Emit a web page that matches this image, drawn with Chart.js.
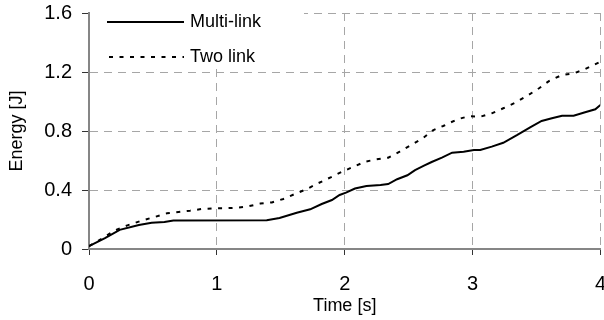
<!DOCTYPE html>
<html>
<head>
<meta charset="utf-8">
<script src="https://cdn.jsdelivr.net/npm/chart.js@4.4.1/dist/chart.umd.min.js"></script>
<style>
  html, body { margin: 0; padding: 0; background: #fff; overflow: hidden; width: 604px; height: 320px; }
  /* canvas is a bit larger than the window so the plot lands where the figure has it */
  #box { position: relative; top: -9px; width: 623px; height: 329px; }
</style>
</head>
<body>
<div id="box"><canvas id="energyChart"></canvas></div>
<script>
// values
let xTicks = [0, 1, 2, 3, 4];
let yTicks = [0, 0.4, 0.8, 1.2, 1.6];

let multiTime = [0, 0.125, 0.24, 0.39, 0.49, 0.59, 0.66, 1.39, 1.49, 1.625, 1.73, 1.82, 1.9, 1.96, 2.01,
  2.08, 2.17, 2.28, 2.34, 2.41, 2.49, 2.55, 2.62, 2.68, 2.76, 2.84, 2.93, 3.01, 3.06, 3.15, 3.24, 3.35, 3.45,
  3.54, 3.62, 3.7, 3.79, 3.88, 3.96, 4.0];
let multiEnergy = [0.02, 0.073, 0.13, 0.163, 0.178, 0.183, 0.193, 0.195, 0.21, 0.246, 0.269, 0.305, 0.332, 0.366, 0.382,
  0.41, 0.427, 0.434, 0.44, 0.473, 0.5, 0.535, 0.565, 0.59, 0.62, 0.653, 0.66, 0.671, 0.671, 0.694, 0.72, 0.773, 0.825,
  0.868, 0.886, 0.904, 0.904, 0.927, 0.947, 0.976];

let twoTime = [0, 0.1, 0.2, 0.3, 0.41, 0.52, 0.61, 0.7, 0.79, 0.88, 0.97, 1.06, 1.16, 1.25, 1.34, 1.43, 1.52, 1.61,
  1.7, 1.79, 1.89, 1.98, 2.07, 2.16, 2.25, 2.34, 2.43, 2.52, 2.61, 2.69, 2.77, 2.88, 2.97, 3.06, 3.15, 3.24, 3.33,
  3.43, 3.52, 3.6, 3.7, 3.79, 3.88, 4.0];
let twoEnergy = [0.02, 0.07, 0.125, 0.16, 0.192, 0.219, 0.242, 0.251, 0.26, 0.271, 0.276, 0.276, 0.28, 0.29, 0.308,
  0.316, 0.339, 0.373, 0.405, 0.445, 0.486, 0.524, 0.558, 0.592, 0.608, 0.619, 0.66, 0.705, 0.75, 0.805, 0.834,
  0.879, 0.9, 0.897, 0.92, 0.954, 0.99, 1.04, 1.09, 1.14, 1.18, 1.19, 1.22, 1.27];

let seriesNames = ["Multi-link", "Two link"];

const FONT = "'Liberation Sans', Arial, sans-serif";

function toPoints(xs, ys) {
  return xs.map((x, i) => ({ x: x, y: ys[i] }));
}

// legend sits inside the plot, on a white patch over the grid
const legendBox = {
  id: "legendBox",
  beforeDatasetsDraw(chart) {
    const { ctx, chartArea } = chart;
    ctx.save();
    ctx.fillStyle = "#fff";
    ctx.fillRect(chartArea.left + 1, 0, 303 - chartArea.left, chartArea.top + 56);
    ctx.restore();
  },
  afterDatasetsDraw(chart) {
    const { ctx, chartArea } = chart;
    const rows = [
      { y: chartArea.top + 9, x0: 107, x1: 184, dash: [] },
      { y: chartArea.top + 44, x0: 109, x1: 184, dash: [4, 6.5] },
    ];
    ctx.save();
    rows.forEach((r, i) => {
      ctx.beginPath();
      ctx.setLineDash(r.dash);
      ctx.lineWidth = 2;
      ctx.strokeStyle = "#000";
      ctx.moveTo(r.x0, r.y);
      ctx.lineTo(r.x1, r.y);
      ctx.stroke();
      ctx.setLineDash([]);
      ctx.fillStyle = "#000";
      ctx.font = "18px " + FONT;
      ctx.textBaseline = "middle";
      ctx.textAlign = "left";
      ctx.fillText(seriesNames[i], 190, r.y);
    });
    ctx.restore();
  },
};

new Chart(document.getElementById("energyChart"), {
  type: "line",
  data: {
    datasets: [
      {
        label: seriesNames[0],
        data: toPoints(multiTime, multiEnergy),
        borderColor: "#000",
        borderWidth: 2,
        pointRadius: 0,
        tension: 0,
        fill: false,
      },
      {
        label: seriesNames[1],
        data: toPoints(twoTime, twoEnergy),
        borderColor: "#000",
        borderWidth: 2,
        borderDash: [4, 6.5],
        pointRadius: 0,
        tension: 0,
        fill: false,
      },
    ],
  },
  options: {
    responsive: true,
    maintainAspectRatio: false,
    animation: false,
    layout: { padding: { top: 22, left: 0, right: 0, bottom: 0 } },
    plugins: {
      legend: { display: false },
      tooltip: { enabled: false },
    },
    scales: {
      x: {
        type: "linear",
        min: 0,
        max: 4,
        afterBuildTicks: (s) => { s.ticks = xTicks.map((v) => ({ value: v })); },
        border: { display: true, color: "#868686", width: 2, dash: [8, 6] },
        grid: { color: "#a6a6a6", lineWidth: 1, tickLength: 6, tickColor: "#333", tickBorderDash: [] },
        ticks: { color: "#000", padding: 17, maxRotation: 0, font: { family: FONT, size: 20 } },
        title: {
          display: true,
          text: "Time [s]",
          color: "#000",
          padding: { top: -17.8, bottom: 3.2 },
          font: { family: FONT, size: 18 },
        },
      },
      y: {
        type: "linear",
        min: 0,
        max: 1.6,
        afterBuildTicks: (s) => { s.ticks = yTicks.map((v) => ({ value: v })); },
        border: { display: true, color: "#868686", width: 2, dash: [8, 6] },
        grid: { color: "#a6a6a6", lineWidth: 1, tickLength: 7, tickColor: "#333", tickBorderDash: [] },
        ticks: { color: "#000", padding: 10, font: { family: FONT, size: 20 } },
        title: {
          display: true,
          text: "Energy [J]",
          color: "#000",
          padding: { top: 6.2, bottom: 6.4 },
          font: { family: FONT, size: 18 },
        },
      },
    },
  },
  plugins: [legendBox],
});
</script>
</body>
</html>
